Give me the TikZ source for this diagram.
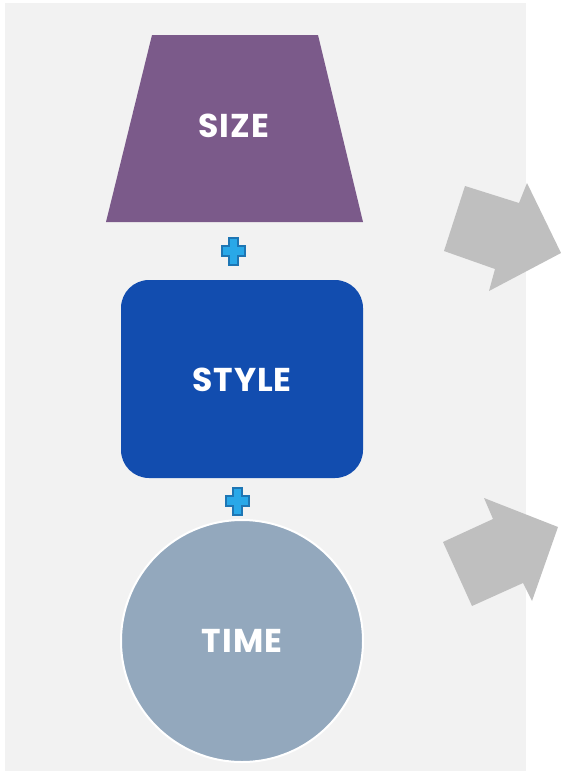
\documentclass[tikz,border=0pt]{standalone}
\usepackage{fontspec}
\setmainfont{Poppins}[LetterSpace=3]
\usepackage{tikz}
\usetikzlibrary{positioning,calc}
\definecolor{PanelGray}{RGB}{242,242,242}
\definecolor{SizePurple}{RGB}{123,90,138}
\definecolor{StyleBlue}{RGB}{18,77,175}
\definecolor{TimeSlate}{RGB}{147,168,189}
\definecolor{ArrowGray}{RGB}{191,191,191}
\definecolor{PlusLight}{RGB}{41,168,232}
\definecolor{PlusDark}{RGB}{30,118,180}

\tikzset{
  label text/.style={text=white, font=\fontsize{33}{39}\selectfont\bfseries},
  plus mark/.style={fill=PlusLight, draw=PlusDark, line width=2pt, line join=miter},
  big arrow/.style={fill=ArrowGray}
}

\begin{document}
\begin{tikzpicture}[x=1pt, y=-1pt]
  \useasboundingbox (0,0) rectangle (561,771);
  \fill[PanelGray] (5,3) rectangle (526,771);
  % size
  \fill[SizePurple] (152,35) -- (318,35) -- (363,222) -- (106,222) -- cycle;
  \node[label text] (size) at (234,126) {SIZE};
  % style
  \fill[StyleBlue, rounded corners=28pt] (121,280) rectangle (363,478);
  \node[label text] (style) at (242,380) {STYLE};
  % time
  \node[circle, fill=TimeSlate, draw=white, line width=2pt, minimum size=242pt] (timecircle) at (242,641) {};
  \node[label text] (time) at (timecircle) {TIME};
  % plus signs
  \foreach \cx/\cy in {233/251, 237/501}
    \draw[plus mark] (\cx-4.5,\cy-13.5) -- (\cx+4.5,\cy-13.5) -- (\cx+4.5,\cy-5)
      -- (\cx+11.5,\cy-5) -- (\cx+11.5,\cy+5) -- (\cx+4.5,\cy+5) -- (\cx+4.5,\cy+13.5)
      -- (\cx-4.5,\cy+13.5) -- (\cx-4.5,\cy+5) -- (\cx-11.5,\cy+5) -- (\cx-11.5,\cy-5)
      -- (\cx-4.5,\cy-5) -- cycle;
  % arrows
  \fill[big arrow] (465,186) -- (519,203) -- (527,183) -- (561,253) -- (489,291)
    -- (495,269) -- (444,251) -- cycle;
  \fill[big arrow] (443,542) -- (493,519) -- (484,498) -- (558,527) -- (532,601)
    -- (523,583) -- (472,606) -- cycle;
\end{tikzpicture}
\end{document}
